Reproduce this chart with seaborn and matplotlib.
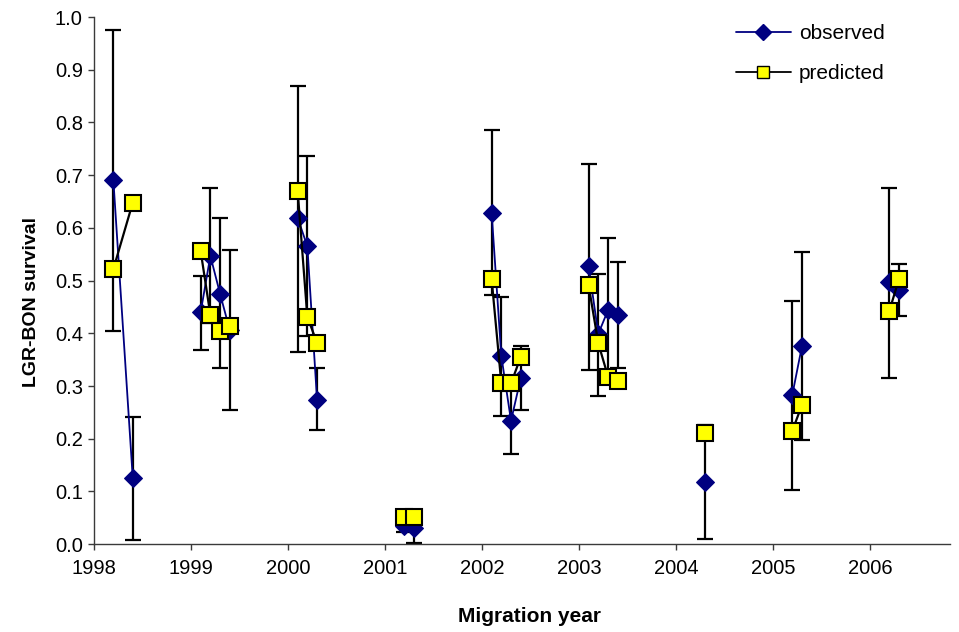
import numpy as np
import pandas as pd
import matplotlib
matplotlib.use("Agg")
import matplotlib.pyplot as plt
from matplotlib.lines import Line2D
import seaborn as sns

# Release group positions (migration year + offset within the season)
release_x = [1998.2, 1998.4,
             1999.1, 1999.2, 1999.3, 1999.4,
             2000.1, 2000.2, 2000.3,
             2001.2, 2001.3,
             2002.1, 2002.2, 2002.3, 2002.4,
             2003.1, 2003.2, 2003.3, 2003.4,
             2004.3,
             2005.2, 2005.3,
             2006.2, 2006.3]

observed = [0.690, 0.125,
            0.440, 0.547, 0.475, 0.406,
            0.619, 0.565, 0.274,
            0.035, 0.030,
            0.629, 0.357, 0.234, 0.315,
            0.527, 0.399, 0.444, 0.435,
            0.118,
            0.283, 0.376,
            0.497, 0.482]

predicted = [0.522, 0.648,
             0.556, 0.435, 0.404, 0.414,
             0.670, 0.431, 0.382,
             0.052, 0.052,
             0.503, 0.305, 0.305, 0.355,
             0.491, 0.381, 0.318, 0.310,
             0.211,
             0.215, 0.264,
             0.442, 0.503]

ci_low = [0.405, 0.008,
          0.368, 0.419, 0.334, 0.254,
          0.365, 0.394, 0.216,
          0.023, 0.003,
          0.472, 0.243, 0.171, 0.254,
          0.330, 0.281, 0.307, 0.334,
          0.009,
          0.102, 0.197,
          0.316, 0.433]

ci_high = [0.975, 0.241,
           0.508, 0.676, 0.619, 0.558,
           0.870, 0.736, 0.334,
           0.047, 0.057,
           0.786, 0.469, 0.297, 0.376,
           0.721, 0.512, 0.581, 0.535,
           0.226,
           0.462, 0.555,
           0.676, 0.531]

year_ticks = [1998, 1999, 2000, 2001, 2002, 2003, 2004, 2005, 2006]
y_ticks = [0.0, 0.1, 0.2, 0.3, 0.4, 0.5, 0.6, 0.7, 0.8, 0.9, 1.0]

df = pd.DataFrame({
    "x": release_x,
    "observed": observed,
    "predicted": predicted,
    "lo": ci_low,
    "hi": ci_high,
})
df["season"] = np.floor(df["x"]).astype(int)

sns.set_style("ticks")
plt.rcParams["font.family"] = ["Liberation Sans", "DejaVu Sans"]
plt.rcParams["text.color"] = "black"
plt.rcParams["axes.labelcolor"] = "black"
plt.rcParams["xtick.color"] = "black"
plt.rcParams["ytick.color"] = "black"

fig = plt.figure(figsize=(9.59, 6.32), dpi=100)
ax = fig.add_axes([0.098, 0.139, 0.893, 0.834])

navy = "#000080"
fs = 14.5
axis_grey = "#3a3a3a"

# Confidence intervals on observed survival
obs_arr = df["observed"].to_numpy()
yerr = np.vstack([obs_arr - df["lo"].to_numpy(), df["hi"].to_numpy() - obs_arr])
ax.errorbar(df["x"], obs_arr, yerr=yerr, fmt="none", ecolor="black",
            elinewidth=1.6, capsize=5.5, capthick=1.6, zorder=2)

# Observed survival, joined within each migration year
sns.lineplot(data=df, x="x", y="observed", units="season", estimator=None,
             sort=False, color=navy, linewidth=1.3, marker="D",
             markersize=9, markerfacecolor=navy, markeredgecolor=navy,
             ax=ax, legend=False, zorder=3)

# Predicted survival, joined within each migration year
sns.lineplot(data=df, x="x", y="predicted", units="season", estimator=None,
             sort=False, color="black", linewidth=1.6, marker="s",
             markersize=12, markerfacecolor="#FFFF00", markeredgecolor="black",
             markeredgewidth=1.5, ax=ax, legend=False, zorder=4)

ax.set_xlim(1998, 2006.83)
ax.set_ylim(0, 1.0)
ax.set_xticks(year_ticks)
ax.set_xticklabels([str(y) for y in year_ticks], fontsize=fs)
ax.set_yticks(y_ticks)
ax.set_yticklabels([f"{v:.1f}" for v in y_ticks], fontsize=fs)
ax.tick_params(axis="both", direction="out", length=4, width=1,
               color=axis_grey, labelcolor="black")
ax.tick_params(axis="x", pad=7)
ax.tick_params(axis="y", pad=4)

for side in ["top", "right"]:
    ax.spines[side].set_visible(False)
for side in ["left", "bottom"]:
    ax.spines[side].set_color(axis_grey)
    ax.spines[side].set_linewidth(1)

ax.set_xlabel("Migration year", fontsize=15, fontweight="bold")
ax.set_ylabel("LGR-BON survival", fontsize=14, fontweight="bold")
ax.xaxis.set_label_coords(0.508, -0.12)
ax.yaxis.set_label_coords(-0.063, 0.46)

handles = [
    Line2D([], [], color=navy, linewidth=1.3, marker="D", markersize=8,
           markerfacecolor=navy, markeredgecolor=navy),
    Line2D([], [], color="black", linewidth=1.3, marker="s", markersize=8,
           markerfacecolor="#FFFF00", markeredgecolor="black"),
]
fig.legend(handles, ["observed", "predicted"], loc="upper left",
           bbox_to_anchor=(0.757, 0.978), frameon=False, fontsize=15,
           handlelength=2.6, handletextpad=0.4, labelspacing=1.0,
           borderpad=0)

fig.savefig("out.png", dpi=100)
